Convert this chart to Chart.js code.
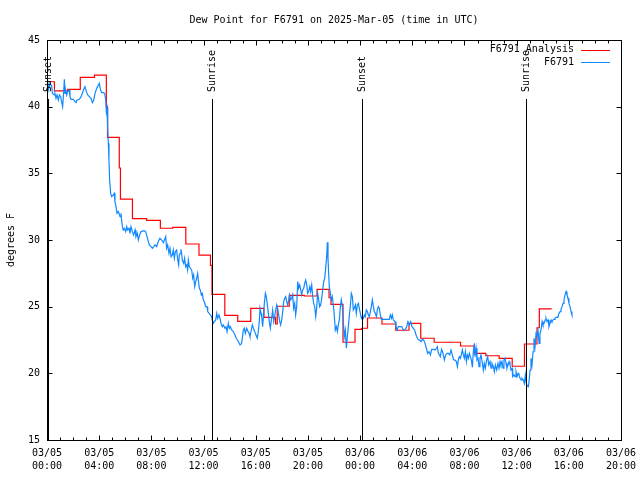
<!DOCTYPE html>
<html>
<head>
<meta charset="utf-8">
<title>Dew Point F6791</title>
<script src="https://cdn.jsdelivr.net/npm/chart.js@4.4.1/dist/chart.umd.min.js"></script>
<style>
html, body { margin: 0; padding: 0; background: #fff; }
canvas { display: block; }
</style>
</head>
<body>
<canvas id="dewChart" width="640" height="480"></canvas>
<script>
"use strict";

const chartTitle = "Dew Point for F6791 on 2025-Mar-05 (time in UTC)";
const yAxisTitle = "degrees F";

// hours since 03/05 00:00 UTC, one label every 4 hours
const xTickLabels = [
    ["03/05", "00:00"], ["03/05", "04:00"], ["03/05", "08:00"], ["03/05", "12:00"],
    ["03/05", "16:00"], ["03/05", "20:00"], ["03/06", "00:00"], ["03/06", "04:00"],
    ["03/06", "08:00"], ["03/06", "12:00"], ["03/06", "16:00"], ["03/06", "20:00"]
];

const sunEventHours = [0.1, 12.67, 24.16, 36.73];
const sunEventLabels = ["Sunset", "Sunrise", "Sunset", "Sunrise"];

// [hour, dew point F] - value holds until the next entry
const analysisSteps = [
    [0.10, 41.87], [0.57, 41.18], [1.59, 41.3], [2.55, 42.2], [3.64, 42.37],
    [4.55, 40.0], [4.64, 37.7], [5.54, 35.4], [5.63, 33.07], [6.55, 31.6],
    [7.64, 31.47], [8.69, 30.88], [9.64, 30.95], [10.64, 29.7], [11.65, 28.87],
    [12.53, 28.1], [12.65, 25.92], [13.63, 24.35], [14.62, 23.9], [15.62, 24.87],
    [16.63, 24.2], [17.52, 23.7], [17.65, 25.03], [18.57, 25.85], [19.72, 25.8],
    [20.70, 26.3], [21.62, 25.67], [21.77, 25.17], [22.69, 22.33], [23.61, 23.3],
    [24.11, 23.38], [24.57, 24.15], [25.68, 23.7], [26.73, 23.23], [27.75, 23.75],
    [28.65, 22.63], [29.68, 22.33], [31.70, 22.05], [32.75, 21.5], [33.64, 21.32],
    [34.66, 21.12], [35.66, 20.53], [36.60, 22.2], [37.56, 23.42], [37.74, 24.83],
    [38.69, 24.83]
];

// [hour, dew point F] station readings
const obsReadings = [
    [0.05, 42.0], [0.10, 41.25], [0.23, 41.75], [0.36, 41.55], [0.41, 41.0], [0.54, 40.88],
    [0.61, 41.0], [0.69, 40.63], [0.77, 40.88], [0.87, 40.5], [0.95, 40.88], [1.05, 40.75],
    [1.12, 40.38], [1.20, 40.0], [1.28, 41.13], [1.33, 42.05], [1.38, 41.0], [1.43, 41.25],
    [1.51, 40.88], [1.58, 41.13], [1.69, 41.25], [1.76, 40.75], [1.84, 40.55], [2.02, 40.55],
    [2.22, 40.3], [2.30, 40.5], [2.48, 40.55], [2.61, 40.75], [2.71, 41.0], [2.81, 41.3],
    [2.91, 41.5], [3.02, 41.13], [3.12, 40.88], [3.25, 40.75], [3.37, 40.63], [3.48, 40.3],
    [3.58, 40.5], [3.68, 41.0], [3.81, 41.38], [3.94, 41.63], [4.01, 41.75], [4.09, 41.3],
    [4.19, 41.05], [4.32, 41.05], [4.42, 41.0], [4.50, 40.5], [4.55, 39.63], [4.60, 39.88],
    [4.65, 38.5], [4.70, 37.25], [4.75, 36.0], [4.80, 34.5], [4.88, 33.5], [4.96, 33.25],
    [5.09, 33.38], [5.16, 33.5], [5.21, 32.88], [5.29, 32.5], [5.37, 32.0], [5.47, 32.13],
    [5.60, 31.75], [5.67, 32.0], [5.72, 31.5], [5.78, 31.0], [5.85, 30.75], [5.93, 30.88],
    [6.03, 30.63], [6.11, 31.0], [6.18, 30.75], [6.29, 30.88], [6.36, 30.5], [6.44, 31.0],
    [6.54, 30.63], [6.64, 30.38], [6.75, 30.75], [6.82, 30.25], [6.92, 30.5], [7.00, 30.0],
    [7.10, 30.38], [7.21, 30.63], [7.44, 30.7], [7.56, 30.63], [7.67, 30.25], [7.77, 29.88],
    [7.85, 29.63], [7.97, 29.5], [8.08, 29.38], [8.18, 29.5], [8.28, 29.63], [8.41, 29.5],
    [8.53, 29.88], [8.66, 30.13], [8.79, 30.0], [8.92, 29.8], [9.10, 30.25], [9.17, 29.38],
    [9.25, 29.63], [9.35, 29.0], [9.43, 29.38], [9.51, 28.75], [9.61, 28.88], [9.68, 29.25],
    [9.76, 28.63], [9.84, 29.13], [9.94, 29.25], [10.02, 28.5], [10.09, 28.13], [10.14, 28.88],
    [10.22, 29.0], [10.27, 29.3], [10.32, 29.0], [10.37, 28.5], [10.48, 28.25], [10.55, 28.63],
    [10.63, 28.0], [10.71, 28.13], [10.78, 27.75], [10.83, 28.5], [10.91, 28.0], [10.99, 27.88],
    [11.09, 27.75], [11.17, 27.13], [11.24, 27.38], [11.32, 26.5], [11.40, 26.88], [11.47, 27.13],
    [11.55, 27.5], [11.60, 27.0], [11.68, 26.38], [11.75, 26.25], [11.83, 25.88], [11.91, 26.0],
    [11.98, 25.5], [12.06, 25.38], [12.16, 25.0], [12.27, 25.0], [12.32, 24.63], [12.42, 24.5],
    [12.52, 24.38], [12.62, 24.25], [12.67, 24.0], [12.75, 23.75], [12.83, 23.88], [12.93, 24.0],
    [13.01, 24.5], [13.08, 24.13], [13.18, 24.38], [13.26, 24.13], [13.34, 23.75], [13.44, 23.5],
    [13.52, 23.63], [13.64, 23.38], [13.72, 23.5], [13.80, 23.13], [13.90, 23.75], [13.98, 23.38],
    [14.05, 23.5], [14.16, 23.25], [14.28, 23.13], [14.41, 22.88], [14.51, 22.63], [14.59, 22.5],
    [14.67, 22.38], [14.80, 22.13], [14.92, 22.25], [15.05, 23.25], [15.13, 23.38], [15.20, 23.0],
    [15.31, 23.38], [15.41, 23.13], [15.49, 23.0], [15.56, 22.75], [15.66, 23.25], [15.74, 23.63],
    [15.82, 23.38], [15.92, 23.13], [16.02, 22.88], [16.12, 22.63], [16.20, 23.13], [16.28, 24.0],
    [16.33, 24.88], [16.41, 24.5], [16.46, 24.25], [16.53, 23.5], [16.58, 24.13], [16.66, 25.25],
    [16.74, 26.0], [16.81, 25.75], [16.89, 25.13], [16.97, 24.5], [17.04, 23.88], [17.12, 23.38],
    [17.20, 24.0], [17.30, 24.75], [17.38, 23.88], [17.45, 24.25], [17.53, 24.75], [17.61, 25.13],
    [17.68, 24.88], [17.76, 24.38], [17.84, 23.88], [17.91, 23.63], [17.99, 24.0], [18.07, 24.63],
    [18.14, 25.38], [18.22, 25.63], [18.30, 25.75], [18.37, 25.38], [18.45, 25.13], [18.53, 25.5],
    [18.60, 25.88], [18.68, 25.5], [18.76, 25.63], [18.83, 25.88], [18.91, 24.88], [18.99, 25.25],
    [19.06, 24.38], [19.14, 25.0], [19.22, 26.88], [19.29, 26.38], [19.37, 26.63], [19.45, 26.25],
    [19.52, 25.88], [19.60, 26.25], [19.68, 26.38], [19.75, 26.75], [19.83, 27.0], [19.91, 26.63],
    [19.98, 26.0], [20.06, 26.13], [20.14, 26.5], [20.21, 26.13], [20.29, 26.63], [20.37, 25.75],
    [20.44, 25.25], [20.52, 25.0], [20.60, 24.25], [20.67, 24.88], [20.75, 26.0], [20.83, 25.5],
    [20.90, 25.0], [20.98, 25.13], [21.06, 25.63], [21.13, 26.25], [21.21, 26.88], [21.29, 27.13],
    [21.36, 27.88], [21.44, 28.75], [21.49, 29.83], [21.54, 28.63], [21.59, 27.5], [21.64, 26.5],
    [21.72, 26.0], [21.80, 25.5], [21.87, 25.75], [21.95, 25.13], [22.03, 24.25], [22.10, 23.25],
    [22.18, 23.5], [22.26, 23.13], [22.33, 23.63], [22.41, 24.0], [22.49, 25.0], [22.56, 25.5],
    [22.64, 25.0], [22.72, 23.75], [22.79, 22.75], [22.87, 23.25], [22.95, 21.88], [23.02, 22.75],
    [23.10, 23.5], [23.18, 24.38], [23.25, 25.0], [23.33, 26.0], [23.41, 25.75], [23.48, 24.75],
    [23.56, 24.88], [23.64, 25.13], [23.71, 24.5], [23.79, 25.13], [23.87, 25.25], [23.94, 24.88],
    [24.02, 24.5], [24.10, 24.13], [24.17, 24.25], [24.25, 24.13], [24.33, 24.38], [24.40, 24.25],
    [24.48, 24.75], [24.56, 24.63], [24.63, 24.38], [24.71, 24.25], [24.79, 24.63], [24.86, 25.0],
    [24.94, 25.5], [25.02, 25.0], [25.09, 24.63], [25.17, 24.5], [25.25, 24.25], [25.32, 24.75],
    [25.40, 25.0], [25.48, 24.88], [25.55, 24.38], [25.63, 24.05], [25.91, 24.05], [26.24, 24.05],
    [26.32, 24.38], [26.40, 24.13], [26.47, 24.38], [26.55, 24.0], [26.68, 23.88], [26.75, 23.5],
    [26.83, 23.25], [26.93, 23.5], [27.19, 23.5], [27.32, 23.25], [27.44, 23.25], [27.57, 23.5],
    [27.67, 23.88], [27.78, 23.63], [27.88, 23.88], [27.98, 23.5], [28.08, 23.38], [28.18, 23.25],
    [28.29, 22.88], [28.39, 22.63], [28.49, 22.5], [28.57, 22.5], [28.67, 22.38], [28.77, 22.55],
    [28.87, 22.5], [28.98, 22.25], [29.08, 21.88], [29.18, 21.5], [29.28, 21.63], [29.39, 21.38],
    [29.49, 21.8], [29.62, 21.8], [29.74, 21.75], [29.85, 21.88], [29.92, 22.0], [30.00, 21.5],
    [30.08, 21.38], [30.15, 21.25], [30.25, 21.8], [30.36, 21.5], [30.46, 21.0], [30.56, 21.38],
    [30.66, 21.5], [30.77, 21.5], [30.87, 21.38], [30.97, 21.75], [31.07, 21.38], [31.17, 21.0],
    [31.28, 21.0], [31.38, 20.88], [31.46, 20.5], [31.53, 21.0], [31.61, 21.25], [31.69, 21.13],
    [31.76, 21.38], [31.84, 21.75], [31.92, 21.38], [31.99, 21.13], [32.07, 21.63], [32.15, 20.88],
    [32.22, 21.38], [32.30, 21.13], [32.38, 21.5], [32.45, 21.25], [32.53, 21.0], [32.61, 20.45],
    [32.68, 21.63], [32.76, 22.25], [32.81, 21.25], [32.89, 21.88], [32.96, 21.0], [33.04, 21.13],
    [33.12, 20.5], [33.19, 21.13], [33.27, 21.38], [33.35, 20.88], [33.45, 20.25], [33.52, 20.75],
    [33.60, 20.38], [33.70, 21.0], [33.78, 21.25], [33.86, 20.63], [33.96, 20.88], [34.04, 20.38],
    [34.11, 20.75], [34.22, 20.5], [34.29, 20.13], [34.37, 20.63], [34.47, 20.25], [34.57, 20.75],
    [34.65, 20.38], [34.73, 20.88], [34.80, 20.63], [34.88, 20.88], [34.96, 20.38], [35.03, 21.0],
    [35.11, 21.13], [35.19, 20.75], [35.26, 20.38], [35.34, 20.63], [35.42, 20.88], [35.49, 20.63],
    [35.57, 20.25], [35.65, 20.38], [35.70, 19.75], [35.80, 19.88], [35.88, 19.75], [35.95, 20.13],
    [36.03, 19.75], [36.11, 20.0], [36.18, 19.88], [36.26, 19.63], [36.34, 19.5], [36.41, 19.63],
    [36.51, 19.5], [36.59, 19.25], [36.67, 19.88], [36.74, 19.25], [36.82, 19.05], [36.90, 19.0],
    [36.95, 19.38], [37.03, 20.25], [37.10, 21.13], [37.18, 20.63], [37.26, 21.63], [37.33, 22.63],
    [37.41, 22.0], [37.49, 23.0], [37.56, 22.88], [37.64, 23.25], [37.72, 22.25], [37.79, 23.0],
    [37.87, 23.25], [37.95, 23.88], [38.02, 23.63], [38.10, 23.75], [38.18, 24.0], [38.25, 24.13],
    [38.33, 23.88], [38.41, 24.0], [38.48, 23.5], [38.56, 23.75], [38.64, 24.0], [38.71, 23.88],
    [38.79, 24.0], [38.87, 24.05], [38.94, 24.13], [39.02, 24.2], [39.10, 24.2], [39.17, 24.25],
    [39.25, 24.5], [39.33, 24.63], [39.40, 24.8], [39.48, 25.0], [39.56, 25.25], [39.63, 25.5],
    [39.71, 25.88], [39.79, 26.13], [39.86, 25.88], [39.94, 25.63], [40.01, 25.25], [40.09, 25.0],
    [40.17, 24.63], [40.24, 24.38]
];

const FONT = "DejaVu Sans Mono";
const RED = "rgb(255, 0, 0)";
const BLUE = "rgb(16, 136, 255)";

Chart.defaults.font.family = FONT;
Chart.defaults.font.size = 10;
Chart.defaults.color = "#000";

function toPoints(rows) {
    return rows.map(r => ({ x: r[0], y: r[1] }));
}

function crisp(v) {
    return Math.round(v) + 0.5;
}

// gnuplot look: boxed frame, inward ticks, sun markers, title, key at top right
const gnuplotFrame = {
    id: "gnuplotFrame",
    afterDatasetsDraw(chart) {
        const ctx = chart.ctx;
        const area = chart.chartArea;
        const xs = chart.scales.x;
        ctx.save();
        ctx.strokeStyle = "#000";
        ctx.fillStyle = "#000";
        ctx.lineWidth = 1;
        ctx.font = "10px " + FONT;
        sunEventHours.forEach((h, i) => {
            const x = crisp(xs.getPixelForValue(h));
            ctx.beginPath();
            ctx.moveTo(x, area.top + 59);
            ctx.lineTo(x, area.bottom);
            ctx.stroke();
            ctx.save();
            ctx.translate(x, area.top + 52);
            ctx.rotate(-Math.PI / 2);
            ctx.textAlign = "left";
            ctx.textBaseline = "middle";
            ctx.fillText(sunEventLabels[i], 0, 0);
            ctx.restore();
        });
        ctx.restore();
    },
    afterDraw(chart) {
        const ctx = chart.ctx;
        const area = chart.chartArea;
        const xs = chart.scales.x;
        const ys = chart.scales.y;
        const l = crisp(area.left), r = crisp(area.right);
        const t = crisp(area.top), b = crisp(area.bottom);
        ctx.save();
        ctx.strokeStyle = "#000";
        ctx.lineWidth = 1;
        ctx.strokeRect(l, t, r - l, b - t);

        ctx.beginPath();
        for (let h = xs.min; h <= xs.max; h++) {
            const x = crisp(xs.getPixelForValue(h));
            const len = h % 4 === 0 ? 5 : 3;
            ctx.moveTo(x, b); ctx.lineTo(x, b - len);
            ctx.moveTo(x, t); ctx.lineTo(x, t + len);
        }
        ys.ticks.forEach(tk => {
            const y = crisp(ys.getPixelForValue(tk.value));
            ctx.moveTo(l, y); ctx.lineTo(l + 5, y);
            ctx.moveTo(r, y); ctx.lineTo(r - 5, y);
        });
        ctx.stroke();

        ctx.fillStyle = "#000";
        ctx.font = "10px " + FONT;
        ctx.textAlign = "center";
        ctx.textBaseline = "middle";
        ctx.fillText(chartTitle, (area.left + area.right) / 2, 20);

        // key
        ctx.textAlign = "right";
        chart.data.datasets.forEach((ds, i) => {
            const y = area.top + 9.5 + i * 12.8;
            ctx.fillStyle = "#000";
            ctx.fillText(ds.label, area.right - 47, y);
            ctx.strokeStyle = ds.borderColor;
            ctx.beginPath();
            ctx.moveTo(area.right - 40, crisp(y));
            ctx.lineTo(area.right - 11, crisp(y));
            ctx.stroke();
        });
        ctx.restore();
    }
};

new Chart(document.getElementById("dewChart").getContext("2d"), {
    type: "line",
    data: {
        datasets: [{
            label: "F6791 Analysis",
            data: toPoints(analysisSteps),
            borderColor: RED,
            borderWidth: 1.2,
            stepped: "before",
            pointRadius: 0,
            order: 1
        }, {
            label: "F6791",
            data: toPoints(obsReadings),
            borderColor: BLUE,
            borderWidth: 1.2,
            pointRadius: 0,
            order: 0
        }]
    },
    options: {
        responsive: false,
        animation: false,
        devicePixelRatio: 1,
        layout: { padding: { top: 40, right: 19, bottom: 0, left: 0 } },
        elements: { line: { tension: 0 } },
        plugins: {
            legend: { display: false },
            tooltip: { enabled: false },
            title: { display: false }
        },
        scales: {
            x: {
                type: "linear",
                min: 0,
                max: 44,
                afterFit: s => {
                    s.height = 40;
                    s.paddingLeft = 0;
                    s.paddingRight = 0;
                },
                grid: { display: false, drawTicks: false },
                border: { display: false },
                ticks: {
                    stepSize: 4,
                    autoSkip: false,
                    maxRotation: 0,
                    padding: 7,
                    font: { size: 10, lineHeight: 1.3 },
                    callback: v => xTickLabels[Math.round(v / 4)]
                }
            },
            y: {
                type: "linear",
                min: 15,
                max: 45,
                afterFit: s => {
                    s.width = 47;
                    s.paddingTop = 0;
                    s.paddingBottom = 0;
                },
                grid: { display: false, drawTicks: false },
                border: { display: false },
                ticks: { stepSize: 5, padding: 7 },
                title: {
                    display: true,
                    text: yAxisTitle,
                    padding: { top: 5, bottom: 0 },
                    font: { size: 10 }
                }
            }
        }
    },
    plugins: [gnuplotFrame]
});
</script>
</body>
</html>
